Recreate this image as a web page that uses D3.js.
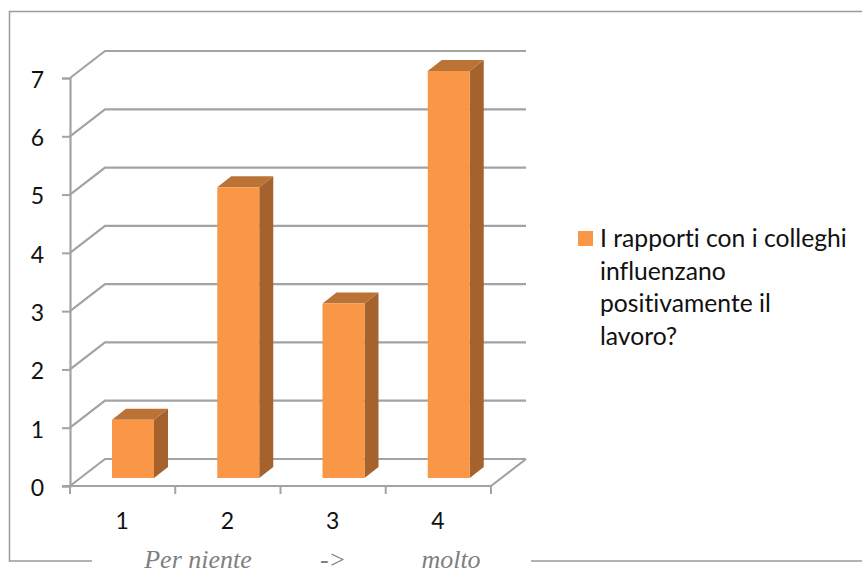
<!DOCTYPE html>
<html>
<head>
<meta charset="utf-8">
<script src="https://cdn.jsdelivr.net/npm/d3@7"></script>
<style>
html, body { margin: 0; padding: 0; background: #fff; }
svg { display: block; }
text { font-variant-ligatures: none; }
</style>
</head>
<body>
<div id="chart"></div>
<script>
var categories = ["1", "2", "3", "4"]
var values = [1, 5, 3, 7]
var yTicks = [0, 1, 2, 3, 4, 5, 6, 7]
var legendLines = ["I rapporti con i colleghi", "influenzano", "positivamente il", "lavoro?"]
var axisTitle = [
  {text: "Per niente", x: 198},
  {text: "->", x: 333},
  {text: "molto", x: 451}
]

var width = 862, height = 574
var gridColor = "#a3a3a3"

// depth of the fake 3d wall and of the bars
var wallDx = 35, wallDy = -27
var barDx = 14, barDy = -11
var barBase = 478

var svg = d3.select("#chart").append("svg")
            .attr("width", width)
            .attr("height", height)

var x = d3.scaleBand().domain(categories).range([70, 491])
var y = d3.scaleLinear().domain([0, 7]).range([486, 78])
var barH = d3.scaleLinear().domain([0, 7]).range([0, 407])

// outer frame, broken at the bottom for the title
var frame = d3.line()
svg.append("path")
   .attr("d", frame([[92, 561], [9.5, 561], [9.5, 11.5], [862, 11.5]]))
   .attr("fill", "none")
   .attr("stroke", "#9a9a9a")
   .attr("stroke-width", 1.5)
svg.append("line")
   .attr("x1", 531).attr("x2", 862)
   .attr("y1", 561).attr("y2", 561)
   .attr("stroke", "#9a9a9a")
   .attr("stroke-width", 1.5)

// gridlines: slanted side wall + back wall
var grid = svg.append("g")
grid.selectAll("path")
    .data(yTicks)
    .enter()
    .append("path")
    .attr("d", function(d) {
      return frame([[70, y(d)], [70 + wallDx, y(d) + wallDy], [526, y(d) + wallDy]])
    })
    .attr("fill", "none")
    .attr("stroke", gridColor)
    .attr("stroke-width", 2.2)

// floor right edge
svg.append("line")
   .attr("x1", 491).attr("y1", y(0))
   .attr("x2", 491 + wallDx).attr("y2", y(0) + wallDy)
   .attr("stroke", gridColor)
   .attr("stroke-width", 2.2)

// axes
var yAxis = d3.axisLeft(y).tickValues(yTicks).tickFormat(d3.format("d")).tickSize(8).tickPadding(18)
var gy = svg.append("g").attr("transform", "translate(70,0)").call(yAxis)

var gx = svg.append("g").attr("transform", "translate(0," + y(0) + ")")
gx.append("line")
  .attr("x1", 62).attr("x2", 491)
  .attr("stroke", gridColor).attr("stroke-width", 2.2)
gx.selectAll(".tk")
  .data(categories.concat(["end"]))
  .enter()
  .append("line")
  .attr("class", "tk")
  .attr("x1", function(d, i) { return i < 4 ? x(d) : x.range()[1] })
  .attr("x2", function(d, i) { return i < 4 ? x(d) : x.range()[1] })
  .attr("y1", 0).attr("y2", 8)
  .attr("stroke", gridColor).attr("stroke-width", 2)
gx.selectAll(".lb")
  .data(categories)
  .enter()
  .append("text")
  .attr("class", "lb")
  .attr("x", function(d) { return x(d) + x.bandwidth() / 2 - 0.5 })
  .attr("y", 43)
  .attr("text-anchor", "middle")
  .attr("font-family", "Lato, 'Open Sans', sans-serif")
  .attr("font-size", 23)
  .attr("fill", "#111")
  .text(function(d) { return d })

gy.select(".domain").attr("stroke", gridColor).attr("stroke-width", 2.2)
gy.selectAll(".tick line").attr("stroke", gridColor).attr("stroke-width", 2)
gy.selectAll(".tick text")
  .attr("y", 2)
  .attr("font-family", "Lato, 'Open Sans', sans-serif")
  .attr("font-size", 23)
  .attr("fill", "#111")

// bars
var barW = 42
var bars = svg.selectAll(".bar")
              .data(values)
              .enter()
              .append("g")
              .attr("class", "bar")
              .attr("transform", function(d, i) {
                return "translate(" + (x(categories[i]) + 42) + "," + barBase + ")"
              })

bars.append("path")
    .attr("d", function(d) {
      var h = barH(d)
      return frame([[barW, 0], [barW + barDx, barDy], [barW + barDx, barDy - h], [barW, -h]]) + "Z"
    })
    .attr("fill", "#a5622c")
bars.append("path")
    .attr("d", function(d) {
      var h = barH(d)
      return frame([[0, -h], [barDx, barDy - h], [barW + barDx, barDy - h], [barW, -h]]) + "Z"
    })
    .attr("fill", "#ba7235")
bars.append("rect")
    .attr("x", 0)
    .attr("y", function(d) { return -barH(d) })
    .attr("width", barW)
    .attr("height", function(d) { return barH(d) })
    .attr("fill", "#f99746")

// legend
svg.append("rect")
   .attr("x", 578).attr("y", 231)
   .attr("width", 15).attr("height", 15)
   .attr("fill", "#f99746")
svg.append("g").selectAll("text")
   .data(legendLines)
   .enter()
   .append("text")
   .attr("x", 600)
   .attr("y", function(d, i) { return 247 + i * 32.7 })
   .attr("font-family", "Lato, 'Open Sans', sans-serif")
   .attr("font-size", 24.7)
   .attr("fill", "#111")
   .text(function(d) { return d })

// axis title
svg.append("g").selectAll("text")
   .data(axisTitle)
   .enter()
   .append("text")
   .attr("x", function(d) { return d.x })
   .attr("y", 567.5)
   .attr("text-anchor", "middle")
   .attr("font-family", "'Liberation Serif', serif")
   .attr("font-style", "italic")
   .attr("font-size", 26)
   .attr("fill", "#808080")
   .text(function(d) { return d.text })
</script>
</body>
</html>
